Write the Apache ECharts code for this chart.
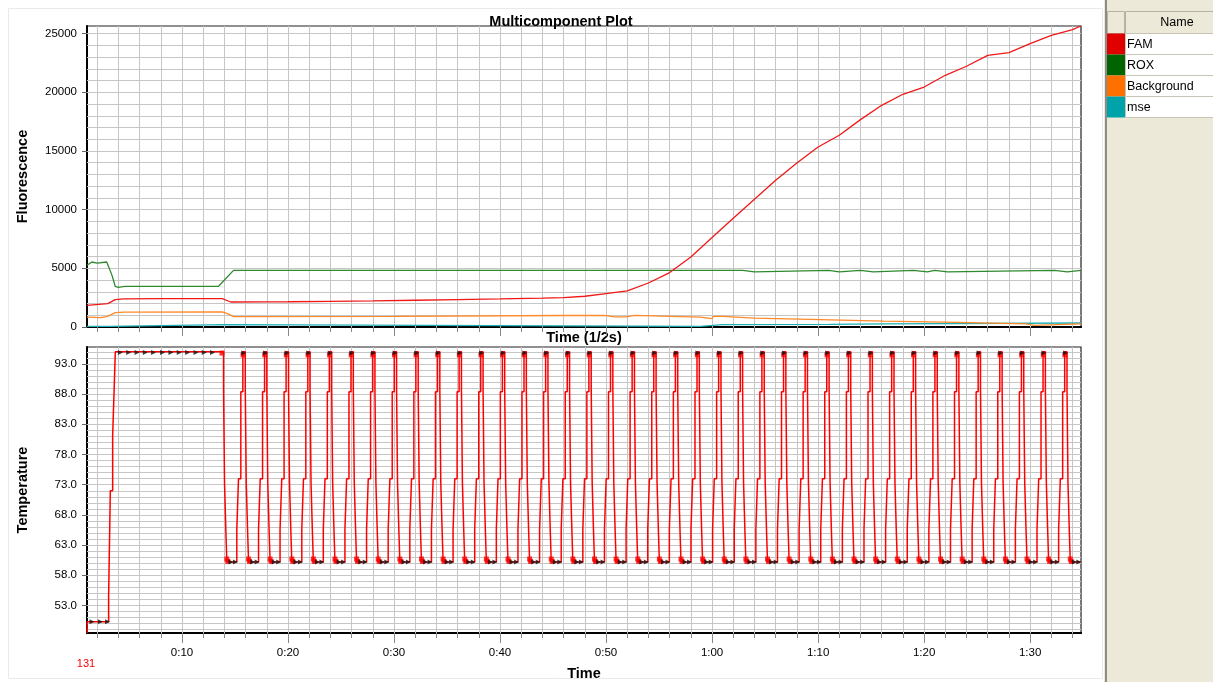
<!DOCTYPE html>
<html><head><meta charset="utf-8">
<script src="https://cdn.jsdelivr.net/npm/echarts@6/dist/echarts.min.js"></script>
<style>html,body{margin:0;padding:0;background:#fff}#c{width:1213px;height:682px}</style>
</head><body><div id="c"></div>
<script>
// ---------- data ----------
const tMin = 1.04, tMax = 94.8;
const timeLabelValues = [10, 20, 30, 40, 50, 60, 70, 80, 90];
const fluoLabelValues = [0, 5000, 10000, 15000, 20000, 25000];
const tempLabelValues = [53, 58, 63, 68, 73, 78, 83, 88, 93];

const famData = [[1.04,1850],[3.0,1990],[3.7,2330],[4.5,2400],[8,2420],[13.8,2410],[14.6,2130],[18,2140],[20,2150],[24,2190],[28,2230],[32,2280],[36,2330],[40,2390],[44,2460],[46,2510],[48,2620],[50,2850],[52,3070],[54,3750],[56,4640],[58,5970],[60,7620],[62,9260],[64,10880],[66,12500],[68,13980],[70,15340],[72,16340],[74,17670],[76,18890],[78,19830],[80,20450],[82,21450],[84,22220],[86,23150],[88,23380],[90,24150],[92,24860],[94,25340],[94.8,25650]];
const roxData = [[1.04,5260],[1.5,5540],[2.0,5450],[2.9,5540],[3.4,4400],[3.7,3470],[4.0,3380],[4.6,3470],[13.45,3470],[14.86,4830],[62.9,4830],[63.0,4690],[64.0,4690],[64.1,4830],[71.0,4830],[71.1,4690],[72.0,4690],[72.1,4830],[74.0,4830],[74.1,4690],[75.2,4690],[75.3,4830],[79.0,4830],[79.1,4690],[80.3,4690],[80.4,4830],[81.0,4830],[81.1,4690],[82.2,4690],[82.3,4830],[92.3,4830],[92.4,4690],[93.5,4690],[93.6,4830],[94.8,4830]];
const bgData = [[1.04,850],[2.3,800],[2.93,890],[3.7,1225],[4.5,1270],[13.77,1280],[14.3,1140],[14.86,890],[30,900],[45.7,980],[49.8,990],[50.8,860],[51.9,860],[52.0,990],[52.7,990],[52.8,860],[58.9,850],[59.0,710],[60.0,710],[60.1,900],[61,900],[61.1,760],[64,760],[64.1,650],[69.2,650],[69.3,500],[76.2,500],[76.3,390],[83.2,390],[83.3,270],[89.6,270],[89.7,130],[90.4,130],[90.5,270],[94.8,270]];
const mseData = [[1.04,50],[3.2,50],[3.3,200],[14.1,200],[14.2,60],[58.9,60],[59.0,200],[61,200],[61.1,230],[71.1,230],[71.2,270],[76.2,270],[76.3,340],[94.8,340]];

const tempStart = [[1.05,48.45],[1.05,50.3],[3.08,50.3],[3.08,54.5],[3.24,54.5],[3.24,72.0],[3.46,72.0],[3.46,81.1],[3.62,81.1],[3.62,89.9],[3.71,89.9],[3.71,95.0]];
const cycleDrops = [13.92,15.97,18.0,20.05,22.08,24.12,26.16,28.2,30.24,32.28,34.32,36.36,38.4,40.44,42.48,44.52,46.56,48.6,50.64,52.68,54.72,56.76,58.8,60.84,62.88,64.92,66.96,69.0,71.04,73.08,75.12,77.16,79.2,81.24,83.28,85.32,87.36,89.4,91.44,93.48];
const cycleOffsets = [0, 0, 0.09, 0.09, 0.22, 0.22, 0.31, 0.31, 1.25, 1.25, 1.41, 1.41, 1.63, 1.63, 1.82, 1.82];
const cycleTemps   = [95.0, 88.8, 88.8, 73.4, 73.4, 65.2, 65.2, 60.2, 60.2, 65.6, 65.6, 74.0, 74.0, 88.4, 88.4, 95.0];
const holdMarks95 = [4.19,4.97,5.76,6.54,7.32,8.17,8.96,9.74,10.53,11.32,12.1,12.88];
const holdMarks50 = [1.51,2.30,2.98];
const bottomMarkOffsets = [0.7, 1.12];
const topMarkOffset = 1.9;

const legendNames = ['FAM', 'ROX', 'Background', 'mse'];
const legendColors = ['#E00000', '#006400', '#FF7000', '#00A3AA'];

// ---------- build series ----------
const tempData = tempStart.slice();
cycleDrops.forEach((d, i) => {
  const last = i === cycleDrops.length - 1;
  cycleOffsets.forEach((o, j) => {
    if (last && o > 1.0) return;
    tempData.push([d + o, cycleTemps[j]]);
  });
  if (last) tempData.push([94.75, 60.2]);
});
const blackMarks = holdMarks50.map(t => [t, 50.3]).concat(holdMarks95.map(t => [t, 94.9]));
const redMarks = [[13.77, 94.8]];
cycleDrops.forEach((d, i) => {
  bottomMarkOffsets.forEach(o => blackMarks.push([d + o, 60.2]));
  redMarks.push([d + 0.31, 60.7], [d + 0.4, 60.3]);
  if (i < cycleDrops.length - 1) { blackMarks.push([d + topMarkOffset, 94.8]); redMarks.push([d + 1.84, 94.5]); }
});

const evenTicks = []; for (let v = 2; v <= 94; v += 2) evenTicks.push(v);
const fluoGrid = []; for (let v = 1000; v <= 25000; v += 1000) fluoGrid.push(v);
const tempGrid = []; for (let v = 49; v <= 95; v++) tempGrid.push(v);

const FONT = 'Liberation Sans';
const GRID_COLOR = '#C6C6C6';
const fmtTime = v => Math.floor(v / 60) + ':' + String(Math.round(v % 60)).padStart(2, '0');

const G0 = { left: 87, top: 26, width: 994, height: 301, show: true, borderColor: '#222', borderWidth: 1.2 };
const G1 = { left: 87, top: 347, width: 994, height: 287, show: true, borderColor: '#222', borderWidth: 1.2 };

function xA(grid, opts) {
  return Object.assign({ type: 'value', gridIndex: grid, position: 'bottom', min: tMin, max: tMax,
    axisLine: { show: true, onZero: false, lineStyle: { color: '#000', width: 2 } }, axisLabel: { show: false }, splitLine: { show: false } }, opts);
}
function yA(grid, min, max, opts) {
  return Object.assign({ type: 'value', gridIndex: grid, position: 'left', min: min, max: max,
    axisLine: { show: true, onZero: false, lineStyle: { color: '#000', width: 2 } }, splitLine: { show: false } }, opts);
}
function gridSeries(xi, yi, y0, xs, ys) {
  const data = xs.map(v => ({ xAxis: v })).concat(ys.map(v => ({ yAxis: v })));
  return { type: 'line', xAxisIndex: xi, yAxisIndex: yi, data: [[tMin, y0]], showSymbol: false, silent: true, z: 1,
    lineStyle: { opacity: 0 },
    markLine: { silent: true, symbol: ['none', 'none'], z: 1, animation: false, label: { show: false },
      lineStyle: { color: GRID_COLOR, width: 1, type: 'solid' }, emphasis: { disabled: true }, data: data } };
}

const legendGraphics = [
  { type: 'rect', shape: { x: 1104, y: 0, width: 109, height: 682 }, style: { fill: '#ECE9D8' } },
  { type: 'line', shape: { x1: 1106, y1: 0, x2: 1106, y2: 682 }, style: { stroke: '#8C8C8C', lineWidth: 2 } },
  { type: 'rect', shape: { x: 8.5, y: 8.5, width: 1094, height: 670 }, style: { fill: 'none', stroke: '#EAEAEA', lineWidth: 1 } },
  { type: 'rect', shape: { x: 1107.5, y: 11.5, width: 17, height: 22 }, style: { fill: '#ECE9D8', stroke: '#B5B2A3' } },
  { type: 'rect', shape: { x: 1125.5, y: 11.5, width: 90, height: 22 }, style: { fill: '#ECE9D8', stroke: '#B5B2A3' } },
  { type: 'text', style: { x: 1177, y: 23, text: 'Name', fontFamily: FONT, fontSize: 12.5, fill: '#000', align: 'center', verticalAlign: 'middle' } },
  { type: 'text', style: { x: 86, y: 664, text: '131', fontFamily: FONT, fontSize: 11, fill: '#FF0000', align: 'center', verticalAlign: 'middle' } }
];
legendNames.forEach((n, i) => {
  const y = 33.5 + i * 21;
  legendGraphics.push(
    { type: 'rect', shape: { x: 1107, y: y, width: 18, height: 21 }, style: { fill: legendColors[i] } },
    { type: 'rect', shape: { x: 1125.5, y: y, width: 90, height: 21 }, style: { fill: '#FFFFFF', stroke: '#C8C5B8' } },
    { type: 'text', style: { x: 1127, y: y + 11, text: n, fontFamily: FONT, fontSize: 12.5, fill: '#000', verticalAlign: 'middle' } }
  );
});

const tickStyle = { color: '#888' };
const nameStyle = { fontFamily: FONT, fontSize: 14.5, fontWeight: 'bold', color: '#000' };
const labelStyle = { fontFamily: FONT, fontSize: 11.5, color: '#000' };

const option = {
  animation: false,
  backgroundColor: '#FFFFFF',
  textStyle: { fontFamily: FONT },
  title: { text: 'Multicomponent Plot', left: 556, top: 9, textAlign: 'center', textStyle: { fontFamily: FONT, fontSize: 14.5, fontWeight: 'bold', color: '#000' } },
  grid: [G0, G1],
  xAxis: [
    xA(0, { axisTick: { show: true, length: 5, customValues: evenTicks, lineStyle: tickStyle },
      name: 'Time (1/2s)', nameLocation: 'middle', nameGap: 3, nameTextStyle: Object.assign({ verticalAlign: 'top' }, nameStyle) }),
    xA(0, { axisTick: { show: true, length: 9, customValues: timeLabelValues, lineStyle: tickStyle } }),
    xA(1, { axisTick: { show: true, length: 5, customValues: evenTicks, lineStyle: tickStyle } }),
    xA(1, { axisTick: { show: true, length: 10, customValues: timeLabelValues, lineStyle: tickStyle },
      axisLabel: Object.assign({ show: true, customValues: timeLabelValues, formatter: fmtTime, margin: 14 }, labelStyle),
      name: 'Time', nameLocation: 'middle', nameGap: 33, nameTextStyle: Object.assign({ verticalAlign: 'top' }, nameStyle) })
  ],
  yAxis: [
    yA(0, 0, 25650, { axisTick: { show: true, length: 5, customValues: fluoLabelValues, lineStyle: { color: '#666' } },
      axisLabel: Object.assign({ show: true, customValues: fluoLabelValues, formatter: v => String(v), margin: 10 }, labelStyle),
      name: 'Fluorescence', nameLocation: 'middle', nameGap: 57, nameTextStyle: nameStyle }),
    yA(1, 48.45, 95.8, { axisTick: { show: true, length: 5, customValues: tempLabelValues, lineStyle: { color: '#666' } },
      axisLabel: Object.assign({ show: true, customValues: tempLabelValues, formatter: v => v.toFixed(1), margin: 10 }, labelStyle),
      name: 'Temperature', nameLocation: 'middle', nameGap: 57, nameTextStyle: nameStyle })
  ],
  graphic: legendGraphics,
  series: [
    gridSeries(0, 0, 0, evenTicks, fluoGrid),
    gridSeries(2, 1, 60, evenTicks, tempGrid),
    { name: 'mse', type: 'line', xAxisIndex: 0, yAxisIndex: 0, z: 3, data: mseData, showSymbol: false, lineStyle: { color: '#20B0B4', width: 1.3 } },
    { name: 'Background', type: 'line', xAxisIndex: 0, yAxisIndex: 0, z: 3, data: bgData, showSymbol: false, lineStyle: { color: '#FF8A2A', width: 1.3 } },
    { name: 'ROX', type: 'line', xAxisIndex: 0, yAxisIndex: 0, z: 3, data: roxData, showSymbol: false, lineStyle: { color: '#2F8A2F', width: 1.3 } },
    { name: 'FAM', type: 'line', xAxisIndex: 0, yAxisIndex: 0, z: 3, data: famData, showSymbol: false, lineStyle: { color: '#F01818', width: 1.3 } },
    { name: 'Temperature', type: 'line', xAxisIndex: 3, yAxisIndex: 1, z: 3, data: tempData, showSymbol: false, lineStyle: { color: '#FF0000', width: 1.5 } },
    { name: 'tempRed', type: 'scatter', xAxisIndex: 3, yAxisIndex: 1, z: 4, data: redMarks, symbol: 'rect', symbolSize: 5, itemStyle: { color: '#FF0000' } },
    { name: 'tempPts', type: 'scatter', xAxisIndex: 3, yAxisIndex: 1, z: 5, data: blackMarks, symbol: 'triangle', symbolRotate: -90, symbolSize: 5, itemStyle: { color: '#111' } }
  ]
};
const chart = echarts.init(document.getElementById('c'), null, { renderer: 'canvas' });
chart.setOption(option);
</script></body></html>
